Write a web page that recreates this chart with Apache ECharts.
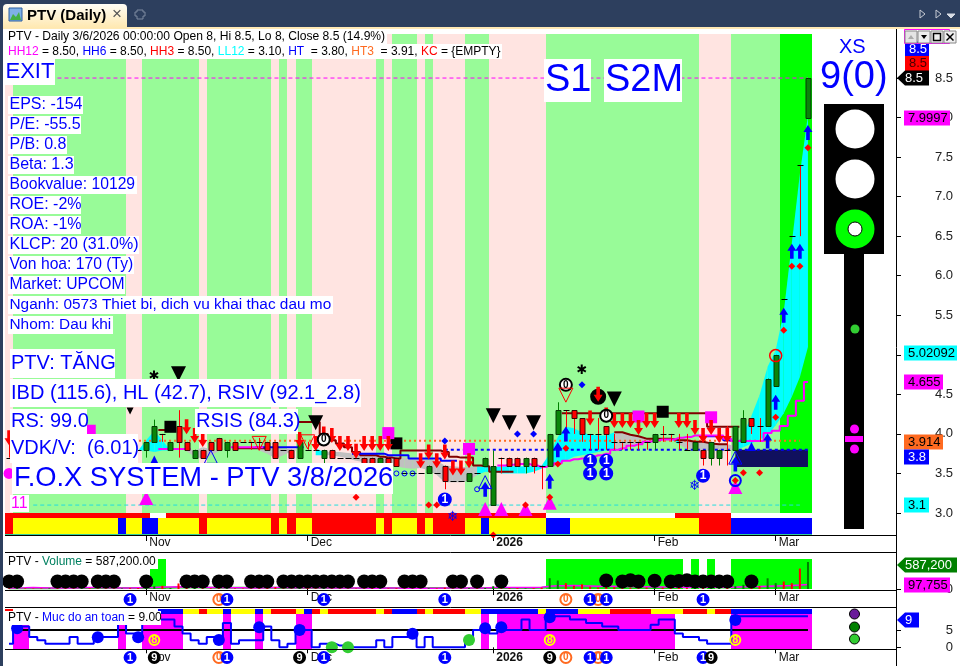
<!DOCTYPE html>
<html><head><meta charset="utf-8"><style>html,body{margin:0;padding:0;background:#fff}#c{width:960px;height:666px}</style>
<script src="https://cdn.jsdelivr.net/npm/echarts@6/dist/echarts.min.js"></script></head><body><div id="c"></div><script>
const SLOTS=100;
const monthSlots=[17,37,60,80,95];
const monthLabels=['Nov','Dec','2026','Feb','Mar'];
const priceTicks=[3,3.5,4,4.5,5,5.5,6,6.5,7,7.5,8,8.5];
const safetyTicks=[0,5];
const volumeTicks=[0];
// background runs [tone,count]
const bandRuns=[['p',1],['g',14],['p',2],['g',7],['p',1],['g',8],['p',1],['g',1],['p',1],['g',2],['p',8],['g',1],['p',1],['g',3],['p',1],['g',1],['p',4],['g',3],['p',7],['g',19],['p',4],['g',6],['l',4]];
const stripUpperRuns=[['r',18],['w',2],['r',47],['w',16],['r',7],['w',10]];
const stripLowerRuns=[['r',1],['y',13],['b',1],['y',2],['b',2],['y',5],['r',1],['y',8],['r',1],['y',1],['r',1],['y',2],['r',8],['y',1],['r',1],['y',3],['r',1],['y',1],['r',4],['y',2],['b',1],['y',7],['b',3],['y',16],['r',4],['b',10]];
const safetyStripRuns=[['r',1],['.',18],['b',3],['y',2],['r',1],['y',2],['b',1],['y',3],['b',1],['y',1],['r',3],['y',1],['b',1],['r',1],['y',1],['r',6],['y',1],['r',1],['b',3],['r',1],['y',1],['r',4],['y',2],['b',7],['y',1],['b',4],['y',4],['r',5],['y',4],['r',3],['y',1],['r',2],['b',10]];
// [open, close, low, high]
const candles=[[3.7,3.7,3.7,3.95],[3.7,3.8,3.7,3.8],[3.8,3.7,3.7,3.8],[3.7,3.7,3.7,3.7],[3.7,3.7,3.7,3.7],[3.7,3.8,3.7,3.8],[3.8,3.8,3.7,3.8],[3.8,3.7,3.7,3.8],[3.7,3.7,3.7,3.7],[3.7,3.8,3.7,3.8],[3.8,3.8,3.8,3.8],[3.8,3.7,3.7,3.8],[3.7,3.7,3.7,3.7],[3.7,3.7,3.7,3.7],[3.7,3.8,3.7,3.8],[3.8,3.8,3.7,3.8],[3.8,3.8,3.8,3.8],[3.8,3.9,3.7,3.9],[3.9,4.1,3.9,4.18],[4,4,3.9,4],[3.8,3.9,3.8,3.9],[4.1,3.9,3.7,4.3],[3.9,3.8,3.8,3.9],[3.7,3.8,3.7,3.8],[3.8,3.7,3.7,3.8],[3.9,3.8,3.8,3.9],[3.95,3.8,3.8,3.95],[3.8,3.9,3.7,3.9],[3.9,3.8,3.8,3.9],[3.9,3.9,3.9,3.9],[3.9,3.9,3.8,3.9],[3.9,3.9,3.8,3.95],[3.9,3.8,3.8,3.9],[3.9,3.7,3.7,3.9],[3.8,3.8,3.8,3.8],[3.8,3.7,3.7,3.8],[3.7,3.9,3.7,3.9],[3.8,3.8,3.8,3.9],[3.8,3.8,3.8,3.9],[3.7,3.8,3.63,3.8],[3.8,3.7,3.7,3.8],[3.7,3.7,3.7,3.7],[3.7,3.7,3.7,3.7],[3.7,3.7,3.7,3.7],[3.7,3.6,3.6,3.7],[3.7,3.6,3.6,3.7],[3.6,3.7,3.6,3.7],[3.7,3.6,3.6,3.7],[3.7,3.6,3.6,3.7],[3.5,3.5,3.5,3.5],[3.5,3.5,3.5,3.5],[3.5,3.5,3.5,3.5],[3.5,3.6,3.5,3.6],[3.5,3.5,3.5,3.5],[3.6,3.4,3.3,3.6],[3.4,3.4,3.4,3.4],[3.4,3.4,3.4,3.4],[3.4,3.5,3.4,3.5],[3.5,3.5,3.5,3.5],[3.6,3.7,3.6,3.7],[3.1,3.6,3.1,3.79],[3.7,3.7,3.5,3.7],[3.7,3.6,3.6,3.7],[3.7,3.6,3.6,3.7],[3.6,3.7,3.5,3.7],[3.7,3.6,3.5,3.7],[3.6,3.6,3.3,3.6],[3.6,4,3.6,4],[4,4.3,4,4.4],[4.3,4.3,4,4.3],[4.3,4.2,4,4.3],[4.2,4,3.9,4.2],[4,4,3.8,4],[4,4,3.8,4.2],[4.1,4,3.8,4.1],[3.9,3.9,3.8,4],[3.9,3.9,3.8,3.9],[3.9,3.9,3.8,3.9],[3.9,3.9,3.8,3.9],[3.9,3.9,3.8,3.9],[3.9,4,3.8,4],[4,4,3.9,4.1],[4,4,3.9,4],[3.9,3.9,3.8,4],[3.8,3.8,3.8,4],[3.8,3.9,3.8,3.9],[3.8,3.7,3.6,3.8],[3.7,3.9,3.6,3.9],[3.7,3.8,3.6,3.8],[3.8,3.8,3.6,4.1],[3.8,4.1,3.8,4.1],[3.9,4.2,3.9,4.3],[4.2,4.1,4,4.2],[4.1,4.1,3.9,4.2],[4.1,4.7,4.1,4.7],[4.6,5,4.6,5],[5.7,5.7,5.7,5.7],[6.5,6.5,6.5,6.5],[7.4,7.4,6.5,7.4],[8,8.5,8,8.5]];
// cloud rows [slot, upper, lower, tone]
const cloudRows=[[16,3.79,3.79,'c'],[17,3.92,3.79,'c'],[18,4.04,3.77,'c'],[19,3.92,3.79,'c'],[20,3.79,3.79,'.'],[22,3.81,3.78,'g'],[23,3.79,3.71,'g'],[24,3.83,3.69,'g'],[25,3.81,3.73,'g'],[26,3.78,3.78,'.'],[31,3.81,3.79,'g'],[32,3.83,3.75,'g'],[33,3.83,3.69,'g'],[34,3.81,3.73,'g'],[35,3.81,3.78,'g'],[36,3.8,3.8,'.'],[38,3.82,3.73,'c'],[39,3.77,3.73,'g'],[40,3.77,3.73,'g'],[41,3.77,3.71,'g'],[42,3.76,3.69,'g'],[43,3.75,3.66,'g'],[44,3.73,3.64,'g'],[45,3.73,3.62,'g'],[46,3.73,3.61,'g'],[47,3.72,3.6,'g'],[48,3.71,3.59,'g'],[49,3.7,3.57,'g'],[50,3.69,3.56,'g'],[51,3.68,3.57,'g'],[52,3.69,3.54,'g'],[53,3.66,3.48,'g'],[54,3.6,3.39,'g'],[55,3.59,3.39,'g'],[56,3.58,3.39,'g'],[57,3.58,3.41,'g'],[58,3.59,3.48,'c'],[59,3.58,3.52,'c'],[60,3.58,3.52,'c'],[61,3.59,3.5,'c'],[62,3.59,3.5,'c'],[63,3.59,3.5,'c'],[64,3.59,3.5,'c'],[65,3.59,3.52,'c'],[66,3.6,3.56,'c'],[67,3.75,3.62,'c'],[68,3.96,3.62,'c'],[69,4.09,3.66,'c'],[70,4.07,3.71,'c'],[71,4.02,3.73,'c'],[72,3.99,3.75,'c'],[73,3.98,3.77,'c'],[74,3.98,3.79,'c'],[75,4.02,3.82,'g'],[76,4.01,3.83,'g'],[77,3.99,3.85,'g'],[78,3.96,3.86,'g'],[79,3.94,3.89,'g'],[80,3.94,3.9,'c'],[81,3.94,3.92,'c'],[82,3.94,3.93,'c'],[83,3.92,3.87,'g'],[84,3.92,3.81,'g'],[85,3.9,3.78,'g'],[86,3.9,3.78,'g'],[87,3.89,3.79,'g'],[88,3.87,3.79,'g'],[89,3.87,3.79,'g'],[90,3.85,3.8,'c'],[91,4,3.83,'c'],[92,4.23,3.88,'c'],[93,4.49,3.93,'c'],[94,4.85,3.98,'c'],[95,5.06,4.11,'c'],[96,5.54,4.26,'c'],[97,6.41,4.47,'c'],[98,7.29,4.72,'c'],[99,8.03,5.1,'.']];
const navyBlock=[90,99,3.8,3.58];
const magentaStep=[[19,3.81],[20,3.81],[21,3.81],[22,3.81],[28,3.83],[29,3.83],[30,3.83],[31,3.83],[61,3.6],[62,3.61],[63,3.62],[64,3.62],[65,3.6],[66,3.58],[67,3.6],[68,3.63],[69,3.66],[70,3.68],[71,3.69],[72,3.71],[73,3.73],[74,3.75],[75,3.8],[76,3.82],[77,3.85],[78,3.87],[79,3.9],[80,3.92],[81,3.93],[82,3.93],[83,3.95],[84,3.96],[85,3.98],[86,3.98],[87,3.98],[88,3.98],[89,3.94],[90,3.91],[91,3.91],[92,3.91],[93,3.91],[94,4.01],[95,4.04],[96,4.1],[97,4.23],[98,4.42],[99,4.655]];
const brownUpper=[[19,4.05],[20,4.05],[36,4.15],[37,4.15],[38,4.15],[39,4],[40,3.92],[41,3.88],[42,3.83],[43,3.77],[44,3.73],[45,3.73],[46,3.71],[47,3.7],[48,3.69],[49,3.79],[50,3.79],[51,3.79],[52,3.79],[53,3.79],[54,3.77],[55,3.71],[56,3.7],[57,3.7],[58,3.6],[59,3.59],[60,3.52],[61,3.52],[62,3.52],[69,4.26],[70,4.26],[71,4.26],[72,4.26],[73,4.26],[74,4.26],[75,4.26],[76,4.26],[77,4.26],[78,4.26],[79,4.26],[80,4.26],[81,4.26],[82,4.26],[83,4.26],[84,4.26],[85,4.26],[86,4.26],[87,4.09],[88,4.09],[89,4.09],[90,4.09]];
const brownLower=[[28,3.82],[29,3.82],[30,3.82],[31,3.82],[32,3.82],[75,4.02],[76,4.02],[77,3.99],[78,3.97],[79,3.94],[80,3.94],[81,3.94],[82,3.94],[83,3.92],[84,3.92],[85,3.9],[86,3.9],[87,3.88],[88,3.87],[89,3.87]];
const blueStep=[[31,3.83],[32,3.83],[33,3.83],[34,3.83],[35,3.83],[36,3.83],[43,3.75],[44,3.75],[45,3.75],[46,3.75],[47,3.73],[48,3.73],[49,3.73],[50,3.69],[51,3.69],[52,3.69],[53,3.69],[54,3.66],[55,3.66],[86,3.97],[87,3.97],[88,3.97],[89,3.92]];
const HT3=3.914,HT=3.8,HH12=8.5,LL12=3.1;
const ht3Span=[0,98],htSpan=[54,99],hh12Span=[6,99],ll12Span=[3,98];
// markers [slot, price]
const blackTriBig=[[21,4.76],[38,4.14],[60,4.23],[62,4.14],[65,4.14],[75,4.44]];
const blackTriSmall=[[15,4.29]];
const blackSquares=[[20,4.09],[48,3.88],[81,4.28]];
const magentaSquares=[[10,4.04],[47,4.01],[57,3.81],[78,4.22],[87,4.21]];
const magentaTris=[[17,3.19],[59,3.05],[61,3.05],[64,3.05],[67,3.13],[90,3.33]];
const redDown=[[0,3.95],[22,4.09],[23,3.98],[24,3.93],[36,3.93],[38,3.88],[39,4.0],[40,3.98],[41,3.88],[42,3.88],[43,3.78],[44,3.88],[45,3.88],[46,3.88],[47,3.88],[51,3.66],[52,3.77],[53,3.66],[54,3.77],[55,3.57],[56,3.57],[57,3.66],[72,4.2],[73,4.5],[74,4.24],[75,4.17],[76,4.17],[77,4.17],[78,4.08],[79,4.17],[80,4.17],[83,4.17],[84,4.17],[85,4.08],[86,3.98],[87,4.08],[88,3.98],[89,3.98]];
const blueUp=[[59,3.3],[67,3.4],[68,3.8],[69,4.0],[90,3.62],[94,3.91],[95,4.4],[96,5.5],[97,6.31],[98,6.31],[99,7.81]];
const redDiamonds=[[43,3.2],[52,3.1],[53,3.1],[60,2.72],[64,3.1],[67,3.2],[68,3.62],[69,3.82],[90,3.41],[91,3.51],[93,3.51],[95,4.21],[96,5.31],[97,6.12],[98,6.12],[99,7.62]];
const blueDiamonds=[[54,3.91],[63,4.0],[65,4.0],[71,4.62]];
const ringSmall=[[48,3.5],[49,3.5],[50,3.5],[58,3.3]];
const oneDiscs=[[54,3.17],[72,3.66],[74,3.66],[72,3.5],[74,3.5],[86,3.47]];
const zeroRings=[[39,3.93],[69,4.62],[74,4.23]];
const blackDisc=[[73,4.47]];
const redHollowDown=[[69,4.49],[37,3.9],[31,3.88]];
const blueHollowUp=[[25,3.71],[59,3.39],[90,3.7]];
const blueFilledUp=[[92,3.84],[18,3.67]];
const blueRing=[[90,3.41]];
const redRing=[[95,4.99]];
const asterisks=[[18,4.72],[71,4.8]];
const snowflakes=[[85,3.34],[55,2.95]];
const magentaDot=[[0,3.5]];
// volume panel
const volumes=[14000,16000,12000,9000,11000,15000,18000,17000,14000,20000,16000,12000,15000,13000,11000,18000,22000,40000,60000,70000,20000,120000,30000,20000,16000,14000,18000,16000,12000,10000,14000,16000,25000,40000,14000,12000,30000,20000,16000,20000,14000,12000,10000,10000,14000,18000,14000,12000,16000,12000,10000,9000,14000,12000,30000,12000,14000,18000,16000,22000,60000,18000,16000,18000,14000,16000,30000,235000,185000,127000,70000,105000,50000,30000,45000,40000,35000,25000,20000,30000,40000,30000,30000,25000,20000,30000,35000,40000,30000,30000,60000,92000,60000,60000,233000,127000,163000,127000,445000,587200];
const volumeMA=[22000,24000,26000,30000,28000,24000,22000,20000,24000,28000,32000,30000,28000,26000,24000,22000,26000,30000,35000,42000,46000,50000,46000,40000,38000,34000,30000,28000,26000,26000,24000,24000,26000,30000,30000,28000,28000,28000,26000,26000,24000,22000,20000,20000,20000,18000,18000,20000,20000,18000,18000,16000,18000,18000,20000,20000,20000,20000,22000,24000,30000,30000,30000,30000,30000,30000,36000,60000,70000,72000,75000,70000,66000,62000,60000,58000,56000,54000,50000,48000,46000,44000,42000,40000,40000,40000,38000,38000,36000,36000,40000,48000,50000,52000,62000,68000,72000,76000,85000,97755];
const volumeSlow=[18000,18000,18000,18000,18000,18000,18000,20000,20000,20000,20000,20000,20000,20000,20000,20000,20000,22000,24000,26000,28000,30000,30000,30000,30000,28000,28000,28000,26000,26000,26000,26000,26000,26000,24000,24000,24000,24000,24000,24000,24000,22000,22000,22000,22000,22000,22000,22000,22000,20000,20000,20000,20000,20000,20000,20000,20000,20000,20000,20000,22000,24000,24000,24000,24000,24000,26000,30000,32000,34000,36000,36000,36000,36000,34000,34000,34000,34000,34000,34000,34000,32000,32000,32000,32000,32000,32000,32000,32000,32000,32000,34000,36000,38000,42000,44000,46000,50000,60000,70000];
const volumeBackdrop=[[18,430000],[19,655000],[67,655000],[68,655000],[69,655000],[70,655000],[71,655000],[72,655000],[73,655000],[74,655000],[75,655000],[76,655000],[77,655000],[78,655000],[79,655000],[80,655000],[81,655000],[82,655000],[83,655000],[85,655000],[87,655000],[90,655000],[91,655000],[92,655000],[93,655000],[94,655000],[95,655000],[96,655000],[97,655000],[98,655000],[99,655000]];
const volumeDots=[[0,163000],[1,163000],[6,163000],[7,163000],[8,163000],[9,163000],[11,163000],[12,163000],[13,163000],[17,163000],[22,163000],[23,163000],[24,163000],[26,163000],[27,163000],[30,163000],[31,163000],[32,163000],[34,163000],[35,163000],[36,163000],[37,163000],[38,163000],[39,163000],[40,163000],[41,163000],[42,163000],[44,163000],[45,163000],[46,163000],[49,163000],[50,163000],[51,163000],[55,163000],[56,163000],[58,163000],[61,163000],[74,185000],[76,163000],[77,190000],[78,163000],[80,180000],[82,163000],[83,175000],[84,190000],[85,163000],[86,163000],[87,163000],[88,163000],[89,163000],[92,163000]];
// safety panel
const safetyLevels=[1,6,6,3,2,1,1,1,3,1,1,3,3,3,7,4,4,7,7,8,8,6,4,2,1,3,3,7,1,2,2,2,6,2,0,1,6,5,0,1,1,0.5,0,0,0,0,2,0,3,3,4,0,3,0,0,0,0,2,5,5,4,5,5,5,8,5,5,9,9,9,8,8,7,7,6,6,5,5,5,5,6.5,8,8,4,3,3,2,1,1,1,9,9,9,9,9,9,9,9,9,9];
const safetyBase=[[1,5],[99,5]];
const magentaBlocks=[1,2,14,17,18,19,20,21,27,31,36,37,59,61,62,63,64,65,66,67,68,69,70,71,72,73,74,75,76,77,78,79,80,81,82,90,91,92,93,94,95,96,97,98,99];
const safetyBlue=[[1,5.5],[11,2.9],[16,2.9],[26,2.1],[31,5.8],[36,5],[50,3.9],[59,5.5],[61,5.8],[67,8.7],[90,7.9]];
const safetyGreen=[[40,0],[42,0],[57,2.1]];
const safetyEights=[[18,2.1],[67,2.1],[90,2.1]];
const rowOneBlue=[15,27,39,54,72,74,86];
const rowOneOrange=[26,69,73];
const rowTwoBlue=[15,27,39,54,72,74,86];
const rowTwoOrange=[26,69,73];
const rowTwoBlack=[18,36,67,87];
// tags
const priceTags=[8.5,8.5,8.5,7.9997,5.02092,4.655,3.914,3.8,3.1];
const priceTagLabels=['8.5','8.5','8.5','7.9997','5.02092','4.655','3.914','3.8','3.1'];
const volumeTags=[587200,97755];
const volumeTagLabels=['587,200','97,755'];
const safetyTags=[9];
const safetyTagLabels=['9'];

const C={blue:'#0000ff',red:'#ff0000',mag:'#ff00ff',pale:'#98fb98',pink:'#ffe4e1',lime:'#00ff00',cyan:'#00ffff',yellow:'#ffff00',gray:'#c0c0c0',brown:'#800000',navy:'#10105e',dg:'#0a850a',orange:'#ff6a20'};
const tone={p:C.pink,g:C.pale,l:C.lime,r:C.red,w:'#ffffff',y:C.yellow,b:C.blue};
const expand=r=>{const o=[];r.forEach(([t,n])=>{for(let i=0;i<n;i++)o.push(t)});return o};
const sparse=p=>{const a=new Array(SLOTS).fill(null);p.forEach(([i,v])=>a[i]=v);return a};
const categories=Array.from({length:SLOTS},(_,i)=>String(i));
const FONT='"Liberation Sans",Arial,sans-serif';
const idx=categories.map((_,i)=>[i,0]);

const slotRect=(params,api,top,bottom)=>{const c=api.coord([api.value(0),0])[0],w=api.size([1,0])[0];const l=Math.round(c-w/2),r=Math.round(c+w/2);return{x:l,y:top,width:r-l,height:bottom-top}};
function band(){const t=expand(bandRuns);return{type:'custom',xAxisIndex:0,yAxisIndex:0,z:1,silent:true,data:idx,encode:{x:0,y:1},renderItem(p,a){const cs=p.coordSys;return{type:'rect',shape:slotRect(p,a,cs.y,Math.round(a.coord([0,3])[1])),style:{fill:tone[t[p.dataIndex]]}}}}}
function strip(runs,y0,y1,ax){const t=expand(runs);return{type:'custom',xAxisIndex:ax,yAxisIndex:ax,z:1,silent:true,data:idx,encode:{x:0,y:1},renderItem(p,a){const k=t[p.dataIndex];if(k==='.')return null;const b=ax===0?Math.round(a.coord([0,3])[1]):p.coordSys.y;return{type:'rect',shape:slotRect(p,a,b+y0,b+y1),style:{fill:tone[k]}}}}}
function cloud(){const data=cloudRows.map((r,i)=>[r[0],r[1],r[2],i]);return{type:'custom',xAxisIndex:0,yAxisIndex:0,z:2,silent:true,data,encode:{x:0,y:1},renderItem(p,a){const i=p.dataIndex,r=cloudRows[i],n=cloudRows[i+1];if(!n||r[3]==='.'||n[0]!==r[0]+1)return null;return{type:'polygon',shape:{points:[a.coord([r[0],r[1]]),a.coord([n[0],n[1]]),a.coord([n[0],n[2]]),a.coord([r[0],r[2]])]},style:{fill:r[3]==='c'?C.cyan:C.gray}}}}}
function navy(){return{type:'custom',xAxisIndex:0,yAxisIndex:0,z:2,silent:true,data:[navyBlock],encode:{x:0,y:2},renderItem(p,a){const A=a.coord([navyBlock[0],navyBlock[2]]),B=a.coord([navyBlock[1],navyBlock[3]]);return{type:'rect',shape:{x:A[0],y:A[1],width:B[0]-A[0],height:B[1]-A[1]},style:{fill:C.navy}}}}}
function candleSeries(){return{type:'custom',name:'Price',xAxisIndex:0,yAxisIndex:0,z:5,silent:true,data:candles.map((c,i)=>[i,c[0],c[1],c[2],c[3]]),encode:{x:0,y:[1,2,3,4]},renderItem(p,a){const i=a.value(0),o=a.value(1),c=a.value(2),l=a.value(3),h=a.value(4);const x=Math.round(a.coord([i,0])[0])+.5;const Y=v=>a.coord([i,v])[1];const up=c>o,dn=c<o;const wick=up?'#008000':C.red;const ch=[{type:'line',shape:{x1:x,y1:Y(h),x2:x,y2:Y(l)},style:{stroke:wick,lineWidth:1}}];if(o===c){const y=Math.round(Y(c))+.5;ch.push({type:'line',shape:{x1:x-3,y1:y,x2:x+3,y2:y},style:{stroke:'#000',lineWidth:1}})}else{const t=Math.round(Y(Math.max(o,c))),b=Math.round(Y(Math.min(o,c)));ch.push({type:'rect',shape:{x:x-2.5,y:t+.5,width:5,height:b-t},style:{fill:up?C.dg:C.red,stroke:up?'#053a05':'#3a0505',lineWidth:1}})}return{type:'group',children:ch}}}}
const line=(data,color,width,extra)=>Object.assign({type:'line',xAxisIndex:0,yAxisIndex:0,z:3,data,showSymbol:false,symbol:'none',silent:true,connectNulls:false,animation:false,lineStyle:{color,width}},extra||{});
const level=(val,span,color,dash,width,z)=>line([[span[0],val],[span[1],val]],color,width,{z:z||3,lineStyle:{color,width,type:dash}});
const UP='path://M5 0L10 7L7 7L7 15L3 15L3 7L0 7Z',DOWN='path://M3 0L7 0L7 8L10 8L5 15L0 8L3 8Z';
const mark=(data,symbol,size,color,extra,ax)=>{const m=Object.assign({type:'scatter',xAxisIndex:ax||0,yAxisIndex:ax||0,data,symbol,symbolSize:size,itemStyle:{color},silent:true,clip:false,z:6},extra||{});m.itemStyle=Object.assign({opacity:1},m.itemStyle);return m};
const hollow=(data,symbol,size,border,w,extra,ax)=>mark(data,symbol,size,'none',Object.assign({itemStyle:{color:'none',borderColor:border,borderWidth:w}},extra||{}),ax);
const disc=(data,txt,fill,border,fg,ax,size,fs)=>mark(data,'circle',size||14,fill,{itemStyle:{color:fill,borderColor:border,borderWidth:2},label:{show:true,position:'inside',formatter:txt,color:fg,fontFamily:FONT,fontWeight:'bold',fontSize:fs||12}},ax);
const glyph=(data,txt,color,fs,ax)=>mark(data,'circle',1,'transparent',{label:{show:true,position:'inside',formatter:txt,color,fontFamily:'"DejaVu Sans"',fontSize:fs}},ax);

function tagSeries(ax,values,labels,cfg){return{type:'custom',xAxisIndex:ax,yAxisIndex:ax,z:50,silent:true,clip:false,data:values.map((v,i)=>[0,v,i]),encode:{x:0,y:1},renderItem(p,a){const i=p.dataIndex,c=cfg[i],yc=Math.round(a.coord([0,values[i]])[1])+c.dy,L=c.x0,R=c.x1,T=yc-7.5,B=yc+7.5;const shape=c.tip?{type:'polygon',shape:{points:[[L-8,yc],[L,T],[R,T],[R,B],[L,B]]},style:{fill:c.fill}}:{type:'rect',shape:{x:L,y:T,width:R-L,height:B-T},style:{fill:c.fill}};return{type:'group',children:[shape,{type:'text',style:{x:L+(c.tip?0:4),y:yc,text:labels[i],fill:c.fg,font:'13px '+FONT,verticalAlign:'middle',textVerticalAlign:'middle'}}]}}}}
const priceCfg=[{dy:-29,x0:905,x1:929,fill:C.blue,fg:'#fff'},{dy:-14.5,x0:905,x1:929,fill:C.red,fg:'#400'},{dy:0,x0:905,x1:929,fill:'#000',fg:'#fff',tip:1},{dy:0,x0:904,x1:950,fill:C.mag,fg:'#000'},{dy:0,x0:904,x1:957,fill:C.cyan,fg:'#000'},{dy:0,x0:904,x1:943,fill:C.mag,fg:'#000'},{dy:1,x0:904,x1:943,fill:C.orange,fg:'#000'},{dy:7,x0:904,x1:929,fill:C.blue,fg:'#fff'},{dy:0,x0:904,x1:929,fill:C.cyan,fg:'#000'}];
const volCfg=[{dy:3,x0:905,x1:957,fill:'#008000',fg:'#fff',tip:1},{dy:0,x0:904,x1:950,fill:C.mag,fg:'#000'}];
const safeCfg=[{dy:4,x0:905,x1:919,fill:C.blue,fg:'#fff',tip:1}];

const xAxis=(g,show)=>({type:'category',gridIndex:g,data:categories,boundaryGap:true,axisLine:{show:false},splitLine:{show:false},
 axisTick:{show,alignWithLabel:true,length:6,interval:i=>monthSlots.includes(i),lineStyle:{color:'#000',width:1}},
 axisLabel:{show,interval:i=>monthSlots.includes(i),align:'left',margin:1,padding:[0,0,0,3],color:'#111',fontFamily:FONT,fontSize:12,lineHeight:14,
  formatter:v=>{const k=monthSlots.indexOf(+v);if(k<0)return'';const t=monthLabels[k];return t==='2026'?'{b|'+t+'}':t},rich:{b:{fontWeight:'bold',fontSize:12,color:'#111',fontFamily:FONT}}}});
const yAxis=(g,min,max,ticks)=>({type:'value',gridIndex:g,position:'right',offset:84,min,max,splitLine:{show:false},axisLine:{show:false,onZero:false},
 axisTick:{show:true,length:5,lineStyle:{color:'#000'},customValues:ticks},
 axisLabel:{show:true,margin:57,align:'right',color:'#222',fontFamily:FONT,fontSize:13,customValues:ticks,formatter:v=>g===0?v.toFixed(1):String(v)}});
const hiddenY=g=>({type:'value',gridIndex:g,min:0,max:1,show:false});

const series=[
 band(),strip(stripUpperRuns,0,5,0),strip(stripLowerRuns,5,21,0),
 {type:'custom',xAxisIndex:0,yAxisIndex:0,z:1,silent:true,data:[[0,0]],encode:{x:0,y:1},renderItem(p,a){const y=Math.round(a.coord([0,3])[1]);return{type:'rect',shape:{x:p.coordSys.x,y:y+21,width:p.coordSys.width,height:1},style:{fill:'#33cc99'}}}},
 cloud(),navy(),
 level(HH12,hh12Span,C.mag,[4,3],1),level(LL12,ll12Span,'#22dddd',[4,3],1),level(HT3,ht3Span,C.orange,[2,3],2),level(HT,htSpan,C.blue,[3,3],2),
 line(sparse(brownUpper),C.brown,2,{step:'middle'}),line(sparse(brownLower),C.brown,2),line(sparse(blueStep),C.blue,2,{step:'middle'}),line(sparse(magentaStep),C.mag,2,{step:'middle'}),
 candleSeries(),
 mark(blackTriBig,'triangle',15,'#000',{symbolRotate:180}),mark(blackTriSmall,'triangle',7,'#000',{symbolRotate:180}),
 mark(blackSquares,'rect',12,'#000'),mark(magentaSquares,'rect',12,C.mag),mark(magentaTris,'triangle',14,C.mag),
 disc(blackDisc,'','#000','#000','#fff',0,14),
 mark(redDown,DOWN,[9,15],C.red),mark(blueUp,UP,[9,15],C.blue),
 mark(redDiamonds,'diamond',7,C.red),mark(blueDiamonds,'diamond',7,C.blue),
 hollow(ringSmall,'circle',5,C.blue,1),disc(oneDiscs,'1',C.blue,C.blue,'#fff',0,12,12),disc(zeroRings,'0','#fff','#000','#000',0,12,10),
 hollow(redHollowDown,'triangle',14,C.red,1,{symbolRotate:180}),hollow(blueHollowUp,'triangle',13,C.blue,1),mark(blueFilledUp,'triangle',9,C.blue),
 hollow(blueRing,'circle',11,C.blue,2),hollow(redRing,'circle',12,C.red,1.5),
 glyph(asterisks,'✱','#000',13),glyph(snowflakes,'❄',C.blue,14),mark(magentaDot,'circle',11,C.mag),
 // volume
 {type:'custom',xAxisIndex:1,yAxisIndex:1,z:1,silent:true,data:volumeBackdrop.map(r=>[r[0],r[1]]),encode:{x:0,y:1},renderItem(p,a){return{type:'rect',shape:slotRect(p,a,Math.round(a.coord([a.value(0),a.value(1)])[1]),Math.round(a.coord([0,0])[1])),style:{fill:C.lime}}}},
 {type:'line',xAxisIndex:1,yAxisIndex:1,data:volumeSlow,showSymbol:false,symbol:'none',z:3,lineStyle:{color:'#22cc22',width:2}},
 {type:'line',xAxisIndex:1,yAxisIndex:1,data:volumeMA,showSymbol:false,symbol:'none',z:3,lineStyle:{color:C.mag,width:1.5}},
 {type:'bar',name:'Volume',xAxisIndex:1,yAxisIndex:1,barWidth:2,z:4,data:volumes.map((v,i)=>({value:v,itemStyle:{color:candles[i][1]>candles[i][0]?'#008000':C.red}}))},
 mark(volumeDots,'circle',14,'#000',{z:5},1),
 // safety
 strip(safetyStripRuns,1,6,2),
 {type:'custom',xAxisIndex:2,yAxisIndex:2,z:1,silent:true,data:magentaBlocks.map(i=>[i,0]),encode:{x:0,y:1},renderItem(p,a){const cs=p.coordSys;return{type:'rect',shape:slotRect(p,a,cs.y+6,cs.y+cs.height),style:{fill:C.mag}}}},
 {type:'line',xAxisIndex:2,yAxisIndex:2,data:safetyBase,showSymbol:false,symbol:'none',z:3,lineStyle:{color:'#000',width:2}},
 {type:'line',name:'Muc do an toan',xAxisIndex:2,yAxisIndex:2,data:safetyLevels,step:'middle',showSymbol:false,symbol:'none',z:4,lineStyle:{color:C.blue,width:2}},
 mark(safetyBlue,'circle',12,C.blue,{z:5},2),mark(safetyGreen,'circle',12,'#32cd32',{z:5},2),
 hollow(safetyEights,'circle',10,C.yellow,2,{z:6,label:{show:true,position:'inside',formatter:'8',color:C.yellow,fontWeight:'bold',fontFamily:FONT,fontSize:11}},2),
 // marker rows
 disc(rowOneOrange.map(i=>[i,.5]),'0','#fff',C.orange,C.orange,3,11,10),disc(rowOneBlue.map(i=>[i,.5]),'1',C.blue,C.blue,'#fff',3,11,11),
 disc(rowTwoOrange.map(i=>[i,.5]),'0','#fff',C.orange,C.orange,4,11,10),disc(rowTwoBlue.map(i=>[i,.5]),'1',C.blue,C.blue,'#fff',4,11,11),disc(rowTwoBlack.map(i=>[i,.5]),'9','#000','#000','#fff',4,11,11),
 // tags
 tagSeries(0,priceTags,priceTagLabels,priceCfg),tagSeries(1,volumeTags,volumeTagLabels,volCfg),tagSeries(2,safetyTags,safetyTagLabels,safeCfg)
];

const gr=[];
const R=(x,y,w,h,fill,extra)=>gr.push(Object.assign({type:'rect',z:100,shape:{x,y,width:w,height:h},style:{fill},silent:true},extra||{}));
const T=(text,x,y,size,color,extra)=>gr.push({type:'text',z:101,x,y,silent:true,style:Object.assign({text,fill:color,font:size+'px '+FONT,verticalAlign:'middle',textVerticalAlign:'middle'},extra||{})});
const box=(text,x0,y0,x1,y1,size,color,tx)=>{R(x0,y0,x1-x0,y1-y0,'#fff');T(text,tx===undefined?x0+2:tx,(y0+y1)/2,size,color)};
const H=(x0,x1,y)=>gr.push({type:'line',z:99,silent:true,shape:{x1:x0,y1:y,x2:x1,y2:y},style:{stroke:'#000',lineWidth:1}});
const P=(pts,stroke,fill,lw)=>gr.push({type:'polygon',z:101,silent:true,shape:{points:pts},style:{stroke,fill,lineWidth:lw||1}});
const CIR=(cx,cy,r,fill,extra)=>gr.push(Object.assign({type:'circle',z:102,silent:true,shape:{cx,cy,r},style:{fill}},extra||{}));
// chrome
R(0,0,960,27,'#2d3f5e');R(0,0,3,666,'#2d3f5e');R(3,27,957,2,'#ffe9b5');
gr.push({type:'rect',z:100,silent:true,shape:{x:3,y:4,width:124,height:24,r:[4,4,0,0]},style:{fill:{type:'linear',x:0,y:0,x2:0,y2:1,colorStops:[{offset:0,color:'#fffdf5'},{offset:1,color:'#ffe8b0'}]}}});
R(9,8,13,13,'#7fb0e8',{style:{fill:'#7fb0e8',stroke:'#2d5fa0',lineWidth:1}});P([[10,20],[13,14],[16,17],[19,12],[21,20]],'none','#45b045');
gr.push({type:'text',z:101,silent:true,x:27,y:15.5,style:{text:'PTV (Daily)',fill:'#000',font:'bold 15px '+FONT,verticalAlign:'middle',textVerticalAlign:'middle'}});
T('×',112,14.5,17,'#555');
P([[137,10],[143,10],[143,12],[145,12],[145,16],[143,16],[143,19],[137,19],[137,16],[135,16],[135,12],[137,12]],'#7f8ba0','none');
P([[925,14],[920,10],[920,18]],'#c8ccd4','none');P([[936,10],[941,14],[936,18]],'#c8ccd4','none');P([[947,14],[955,14],[951,18]],'#d8dce4','#d8dce4');
// header
box('PTV - Daily 3/6/2026 00:00:00 Open 8, Hi 8.5, Lo 8, Close 8.5 (14.9%)',5,29,387,44,12.1,'#000',8);
R(5,44,497,15,'#fff');
gr.push({type:'text',z:101,silent:true,x:8,y:51.5,style:{font:'12px '+FONT,verticalAlign:'middle',textVerticalAlign:'middle',fill:'#000',
 text:'{m|HH12}{k| = 8.50, }{b|HH6}{k| = 8.50, }{r|HH3}{k| = 8.50, }{c|LL12}{k| = 3.10, }{b|HT}{k|  = 3.80, }{o|HT3}{k|  = 3.91, }{r|KC}{k| = {EMPTY}}',
 rich:{k:{fill:'#000',font:'12px '+FONT},m:{fill:C.mag,font:'12px '+FONT},b:{fill:C.blue,font:'12px '+FONT},r:{fill:C.red,font:'12px '+FONT},c:{fill:C.cyan,font:'12px '+FONT},o:{fill:C.orange,font:'12px '+FONT}}}});
// annotations
box('EXIT',5,59,55,85,22,C.blue,5.5);
box('S1',544,59,591,102,38,C.blue,545);box('S2M',604,59,682,102,38,C.blue,605);
[['EPS: -154',83,16],['P/E: -55.5',81,16],['P/B: 0.8',67,16],['Beta: 1.3',74,16],['Bookvalue: 10129',137,15.7],['ROE: -2%',81,16],['ROA: -1%',81,16],['KLCP: 20 (31.0%)',139,16],['Von hoa: 170 (Ty)',134,15.7],['Market: UPCOM',125,15.7],['Nganh: 0573 Thiet bi, dich vu khai thac dau mo',333,15.4],['Nhom: Dau khi',113,15.4]].forEach((r,i)=>box(r[0],8,96+20*i,r[1],114+20*i,r[2],C.blue,9.5));
box('PTV: TĂNG',10,349,115,378,20,C.blue,11);
box('IBD (115.6), HL (42.7), RSIV (92.1_2.8)',10,379,361,407,20,C.blue,11);
box('RS: 99.0',10,409,87,434,20,C.blue,11);
box('RSIS (84.3)',195,409,298,434,20,C.blue,196);
box('VDK/V:  (6.01)',10,434,138,463,20,C.blue,11);
box('F.O.X SYSTEM - PTV 3/8/2026',12,463,393,494,27.3,C.blue,14);
box('11',10,495,29,512,16,C.mag,11);
R(5,555,152,14,'#fff');
gr.push({type:'text',z:102,silent:true,x:8,y:562,style:{font:'12px '+FONT,verticalAlign:'middle',textVerticalAlign:'middle',text:'{k|PTV - }{g|Volume}{k| = 587,200.00}',rich:{k:{fill:'#000',font:'12px '+FONT},g:{fill:'#008060',font:'12px '+FONT}}}});
R(5,611,156,14,'#fff');
gr.push({type:'text',z:102,silent:true,x:8,y:618,style:{font:'12px '+FONT,verticalAlign:'middle',textVerticalAlign:'middle',text:'{k|PTV - }{g|Muc do an toan}{k| = 9.00}',rich:{k:{fill:'#000',font:'12px '+FONT},g:{fill:C.blue,font:'12px '+FONT}}}});
box('XS',839,38,868,56,20,C.blue,839);
T('9(0)',820,78,38,C.blue);
// traffic light
R(824,104,60,150,'#000');R(844,254,20,275,'#000');
CIR(855,129,19.5,'#fff');CIR(855,179,19.5,'#fff');CIR(855,229,19.5,C.lime);CIR(855,229,7,'#fff',{style:{fill:'#fff',stroke:'#000',lineWidth:1}});
CIR(855,329,4.5,'#32cd32');CIR(854.5,429,4.5,C.mag);R(845,436,18,6,C.mag,{z:102});CIR(854.5,449,4.5,C.mag);
CIR(854.5,614,5,'#6a1b9a',{style:{fill:'#6a1b9a',stroke:'#000',lineWidth:1}});CIR(854.5,627,5,'#008000',{style:{fill:'#008000',stroke:'#000',lineWidth:1}});CIR(854.5,639,5,'#32cd32',{style:{fill:'#32cd32',stroke:'#000',lineWidth:1}});
// rules
[535.5,552.5,590.5,607.5,649.5].forEach(y=>H(5,896,y));
gr.push({type:'line',z:99,silent:true,shape:{x1:896.5,y1:29,x2:896.5,y2:666},style:{stroke:'#000',lineWidth:1}});
// window buttons
gr.push({type:'rect',z:110,silent:true,shape:{x:904.5,y:29.5,width:45,height:14},style:{fill:'none',stroke:C.mag,lineWidth:1}});
[[905,'#e4e4e4'],[918,'#eeeeee'],[931,'#eeeeee'],[944,'#eeeeee']].forEach(b=>gr.push({type:'rect',z:111,silent:true,shape:{x:b[0],y:31,width:12,height:12},style:{fill:b[1],stroke:'#888',lineWidth:1}}));
const P2=(pts,fill)=>gr.push({type:'polygon',z:112,silent:true,shape:{points:pts},style:{fill}});
P2([[908,39],[914,39],[911,35]],'#aaa');P2([[921,35],[927,35],[924,39]],'#000');
gr.push({type:'rect',z:112,silent:true,shape:{x:933.5,y:33.5,width:7,height:7},style:{fill:'none',stroke:'#000',lineWidth:1.5}});
gr.push({type:'line',z:112,silent:true,shape:{x1:946.5,y1:33.5,x2:953.5,y2:40.5},style:{stroke:'#000',lineWidth:1.5}});
gr.push({type:'line',z:112,silent:true,shape:{x1:953.5,y1:33.5,x2:946.5,y2:40.5},style:{stroke:'#000',lineWidth:1.5}});

const chart=echarts.init(document.getElementById('c'),null,{renderer:'canvas'});
chart.setOption({animation:false,backgroundColor:'#fff',
 grid:[{left:5,top:34,width:807,height:501},{left:5,top:553,width:807,height:37},{left:5,top:608,width:807,height:41.5},{left:5,top:592,width:807,height:15},{left:5,top:650,width:807,height:15}],
 xAxis:[xAxis(0,true),xAxis(1,true),xAxis(2,true),xAxis(3,false),xAxis(4,false)],
 yAxis:[yAxis(0,2.7215,9.057,priceTicks),yAxis(1,-21700,783000,volumeTicks),yAxis(2,-0.64,11.36,safetyTicks),hiddenY(3),hiddenY(4)],
 series,graphic:{elements:gr}});
</script></body></html>
